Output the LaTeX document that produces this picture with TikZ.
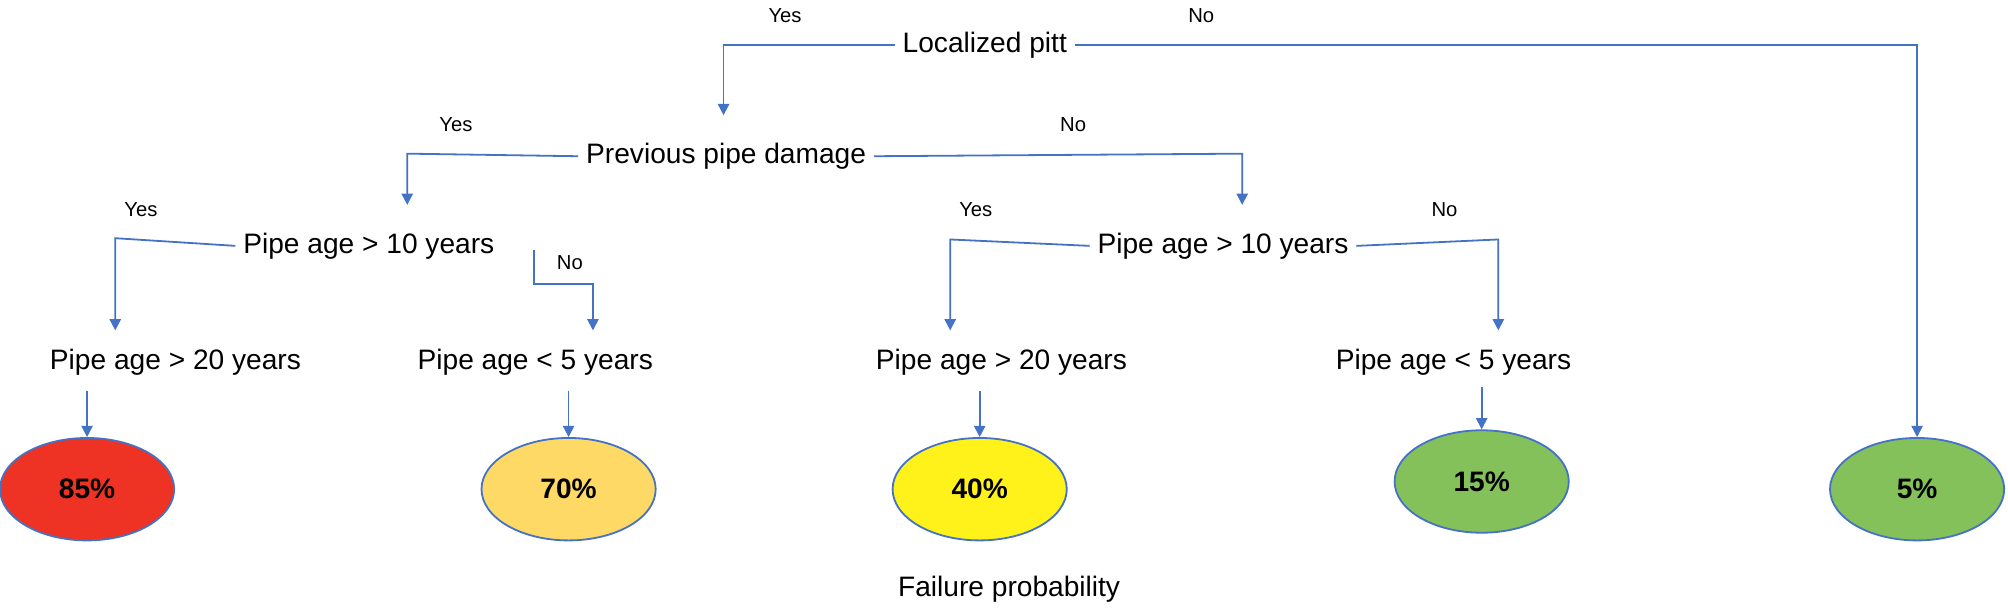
\documentclass[tikz,border=0pt]{standalone}
\usepackage{fontspec}
\setmainfont{Liberation Sans}
\usetikzlibrary{arrows.meta}
\definecolor{ln}{HTML}{4472C4}
\definecolor{cr}{HTML}{EE3224}
\definecolor{co}{HTML}{FFD966}
\definecolor{cy}{HTML}{FFF21A}
\definecolor{cg}{HTML}{84C15A}
\tikzset{
 lbl/.style={font=\fontsize{12.5}{14}\selectfont},
 yn/.style={font=\fontsize{9}{10}\selectfont},
 conn/.style={draw=ln,line width=0.8pt,-{Triangle[length=5pt,width=5pt]}},
 ell/.style={ellipse,draw=ln,line width=0.8pt,minimum width=136*0.02cm,minimum height=80*0.02cm,font=\bfseries\fontsize{12.5}{14}\selectfont}
}
\usetikzlibrary{shapes.geometric}
\begin{document}
\begin{tikzpicture}[x=0.02cm,y=-0.02cm]
\useasboundingbox (0,0) rectangle (1568,475);
\node[lbl] (lp) at (769,35) {Localized pitt};
\node[lbl] (pd) at (567,122) {Previous pipe damage};
\node[lbl] (a1) at (288,192) {Pipe age > 10 years};
\node[lbl] (a2) at (955,192) {Pipe age > 10 years};
\node[lbl] (b1) at (137,283) {Pipe age > 20 years};
\node[lbl] (b2) at (418,283) {Pipe age < 5 years};
\node[lbl] (b3) at (782,283) {Pipe age > 20 years};
\node[lbl] (b4) at (1135,283) {Pipe age < 5 years};
\node[ell,fill=cr] (e1) at (68,382) {85\%};
\node[ell,fill=co] (e2) at (444,382) {70\%};
\node[ell,fill=cy] (e3) at (765,382) {40\%};
\node[ell,fill=cg] (e4) at (1157,376) {15\%};
\node[ell,fill=cg] (e5) at (1497,382) {5\%};
\node[lbl] (fp) at (788,460) {Failure probability};
\node[yn] at (613,12) {Yes};
\node[yn] at (938,12) {No};
\node[yn] at (356,97) {Yes};
\node[yn] at (838,97) {No};
\node[yn] at (110,164) {Yes};
\node[yn] at (445,205) {No};
\node[yn] at (762,164) {Yes};
\node[yn] at (1128,164) {No};
\draw[conn] (lp.west) -- (565,35) -- (565,90);
\draw[conn] (lp.east) -- (1497,35) -- (e5.north);
\draw[conn] (pd.west) -- (318,120) -- (318,160);
\draw[conn] (pd.east) -- (970,120) -- (970,160);
\draw[conn] (a1.west) -- (90,186) -- (90,258);
\draw[conn] (417,195) -- (417,222) -- (463,222) -- (463,258);
\draw[conn] (a2.west) -- (742,187) -- (742,258);
\draw[conn] (a2.east) -- (1170,187) -- (1170,258);
\draw[conn] (68,305) -- (e1.north);
\draw[conn] (444,305) -- (e2.north);
\draw[conn] (765,305) -- (e3.north);
\draw[conn] (1157,302) -- (e4.north);
\end{tikzpicture}
\end{document}
